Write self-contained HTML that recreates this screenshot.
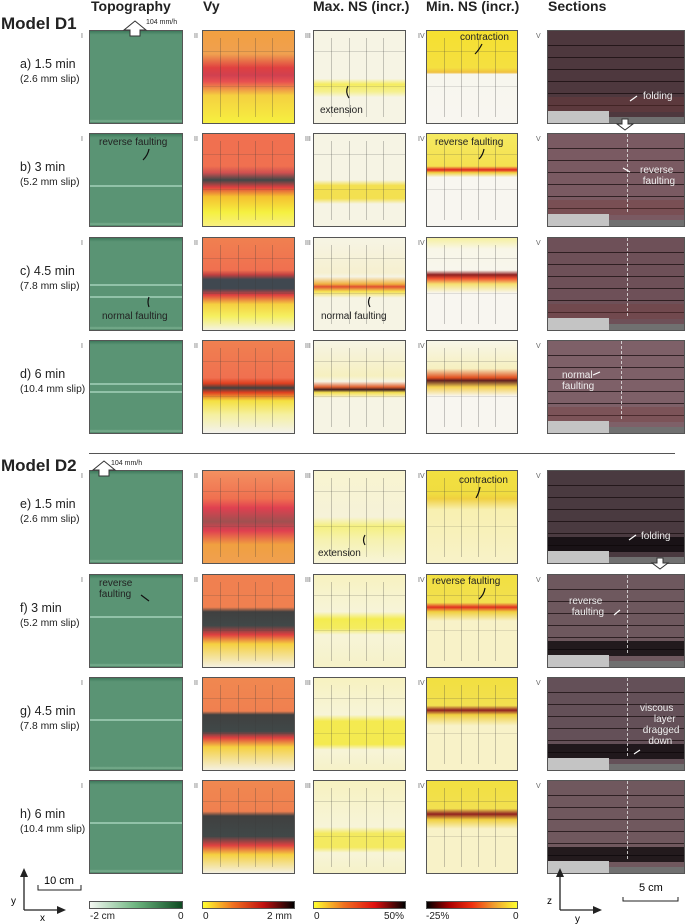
<!DOCTYPE html>
<html><head><meta charset="utf-8">
<style>
body{margin:0;width:685px;height:924px;background:#fff;position:relative;overflow:hidden;font-family:"Liberation Sans",Arial,sans-serif;color:#222}
.a{position:absolute}
.p{position:absolute;border:1px solid #555;box-sizing:border-box;overflow:hidden}
.h{position:absolute;top:-2px;font-weight:bold;font-size:14px}
.lab{position:absolute;left:20px;font-size:12.5px;line-height:14px}
.lab small{font-size:10.3px}
.rn{position:absolute;font-size:7px;color:#666}
.t{position:absolute;font-size:10px;white-space:nowrap}
.g{position:absolute;background:rgba(60,60,60,.45)}
.cb{position:absolute;top:901px;height:8px;border:1px solid #555;box-sizing:border-box}
.ct{position:absolute;top:911px;font-size:10px}
</style></head><body>
<div class="h" style="left:91px">Topography</div>
<div class="h" style="left:203px">Vy</div>
<div class="h" style="left:313px">Max. NS (incr.)</div>
<div class="h" style="left:426px">Min. NS (incr.)</div>
<div class="h" style="left:548px">Sections</div>
<div class="a" style="left:1px;top:14px;font-weight:bold;font-size:17px">Model D1</div>
<div class="a" style="left:1px;top:456px;font-weight:bold;font-size:17px">Model D2</div>
<div class="a" style="left:89px;top:453px;width:586px;height:1px;background:#555"></div>
<div class="t" style="left:146px;top:19px;font-size:7px">104 mm/h</div>
<div class="t" style="left:111px;top:460px;font-size:7px">104 mm/h</div>
<div id="root"></div>

<div class="cb" style="left:89px;width:94px;background:linear-gradient(90deg,#f4f8f2,#6db57f,#0e4a22)"></div>
<div class="cb" style="left:202px;width:93px;background:linear-gradient(90deg,#ffff30,#f07020,#c01010,#000)"></div>
<div class="cb" style="left:313px;width:93px;background:linear-gradient(90deg,#ffff30,#f07020,#e01010,#000)"></div>
<div class="cb" style="left:426px;width:92px;background:linear-gradient(90deg,#000,#a00,#f03010,#f0a030,#ffff30)"></div>
<div class="ct" style="left:90px">-2 cm</div><div class="ct" style="left:178px">0</div>
<div class="ct" style="left:203px">0</div><div class="ct" style="left:267px">2 mm</div>
<div class="ct" style="left:314px">0</div><div class="ct" style="left:384px">50%</div>
<div class="ct" style="left:426px">-25%</div><div class="ct" style="left:513px">0</div>
<svg class="a" style="left:0;top:860px" width="90" height="64">
<path d="M24 50 V12 M24 50 H62" stroke="#222" stroke-width="1.3" fill="none"/>
<path d="M20 17 L24 8 L28 17Z M57 46 L66 50 L57 54Z" fill="#222"/>
<path d="M38 25 V30 H81 V25" stroke="#222" fill="none"/>
<text x="11" y="44" font-size="10" font-family="Liberation Sans">y</text>
<text x="40" y="61" font-size="10" font-family="Liberation Sans">x</text>
<text x="44" y="24" font-size="11" font-family="Liberation Sans">10 cm</text>
</svg>
<svg class="a" style="left:545px;top:860px" width="140" height="64">
<path d="M15 50 V12 M15 50 H53" stroke="#222" stroke-width="1.3" fill="none"/>
<path d="M11 17 L15 8 L19 17Z M48 46 L57 50 L48 54Z" fill="#222"/>
<path d="M78 37 V41 H133 V37" stroke="#222" fill="none"/>
<text x="2" y="44" font-size="10" font-family="Liberation Sans">z</text>
<text x="30" y="62" font-size="10" font-family="Liberation Sans">y</text>
<text x="94" y="31" font-size="11" font-family="Liberation Sans">5 cm</text>
</svg>
<script>
var rowsY=[30,133,237,340,470,574,677,780];
var colsX=[89,202,313,426,547];
var colsW=[94,93,93,92,138];
var labels=[["a) 1.5 min","(2.6 mm slip)"],["b) 3 min","(5.2 mm slip)"],["c) 4.5 min","(7.8 mm slip)"],["d) 6 min","(10.4 mm slip)"],["e) 1.5 min","(2.6 mm slip)"],["f) 3 min","(5.2 mm slip)"],["g) 4.5 min","(7.8 mm slip)"],["h) 6 min","(10.4 mm slip)"]];
var vy=[
"#f2a040 0%,#f0a050 25%,#e04040 40%,#d04050 48%,#e85050 55%,#f5d040 70%,#f6f040 100%",
"#f07050 0%,#f07050 35%,#d05050 42%,#404848 50%,#e04040 58%,#f5c030 68%,#f5f040 85%,#f8f080 100%",
"#f08050 0%,#f07050 35%,#c04040 40%,#404850 45%,#404850 55%,#e04040 62%,#f5d040 72%,#f5f060 85%,#f4f2e0 100%",
"#f08050 0%,#f07050 40%,#e04020 46%,#404040 51%,#e04020 56%,#f5e040 65%,#f5f0a0 80%,#f4f2ec 100%",
"#f39060 0%,#f07050 30%,#e04050 40%,#a05050 55%,#e04050 65%,#f0a040 80%,#f0a050 100%",
"#f08050 0%,#f08050 35%,#404040 40%,#404848 55%,#e04040 65%,#f5d040 75%,#f4f0e0 100%",
"#f08850 0%,#f08050 36%,#404040 40%,#404848 58%,#e04040 65%,#f5d040 75%,#f4f0e0 100%",
"#f08850 0%,#f08050 33%,#404040 38%,#404848 60%,#e04040 70%,#f5d040 80%,#f4f0e0 100%"];
var maxns=[
"#f6f4e4 0%,#f6f4e4 52%,#f5ec60 58%,#f5f090 66%,#f6f4e4 72%",
"#f6f4e4 0%,#f6f4e4 50%,#f3e050 56%,#f3e050 70%,#f6f4e4 76%",
"#f6f4e4 0%,#f6f0d0 38%,#f6f4e4 42%,#f0b040 50%,#e05030 53%,#f5e050 58%,#f6f4e4 65%",
"#f6f4e4 0%,#f6f0c0 38%,#f6f4e4 44%,#e06030 50%,#402020 53%,#f5e050 56%,#f6f4e4 62%",
"#f8f4d0 0%,#f6f2d8 50%,#f5f080 60%,#f6f2b0 75%,#f7f4d8 100%",
"#f7f2c0 0%,#f7f4d8 40%,#f4ec50 48%,#f4ec60 58%,#f7f4d8 65%,#f6f2c8 100%",
"#f7f2c0 0%,#f7f4d8 40%,#f4ea50 47%,#f4ea50 72%,#f7f4d8 78%,#f6f2c8 100%",
"#f7f2c0 0%,#f7f4d8 50%,#f4ea60 57%,#f4ea60 72%,#f7f4d8 78%,#f6f2c8 100%"];
var minns=[
"#f5e030 0%,#f5e040 40%,#f0c040 45%,#f7f6ee 47%,#f8f6f0 100%",
"#f5ea60 0%,#f5e050 35%,#e02020 39%,#f0d040 42%,#f8f6f0 47%,#f8f6f0 100%",
"#f6f0a0 0%,#f8f6e8 12%,#f8f6ec 35%,#902020 40%,#f05030 44%,#f5e070 50%,#f8f6f0 60%,#f8f6f0 100%",
"#f8f6e8 0%,#f6f0c0 30%,#e05020 40%,#602020 43%,#f5d050 50%,#f8f6f0 60%,#f8f6f0 100%",
"#f2e040 0%,#f0dc40 25%,#f0d040 30%,#f8f0b0 42%,#f8f2c8 100%",
"#f2e040 0%,#f2e050 30%,#e03020 35%,#f0d040 40%,#f8f2c8 50%,#f8f2c8 100%",
"#f2e040 0%,#f2e050 30%,#902020 35%,#f0d040 40%,#f8f2c8 52%,#f8f2c8 100%",
"#f2e040 0%,#f2e050 30%,#902020 36%,#f0d040 42%,#f8f2c8 52%,#f8f2c8 100%"];
var secBg=["#4e383e","#7a5a62","#6e5058","#7e6068","#4a3a40","#6e585e","#645058","#70585e"];
var topoLines=[[],[55],[50,63],[46,54],[],[45],[45],[45]];
var root=document.getElementById('root');
function mk(parent,cls,style){var e=document.createElement('div');if(cls)e.className=cls;e.style.cssText=style;parent.appendChild(e);return e;}
var roman=["I","II","III","IV","V"];
for(var r=0;r<8;r++){
  var y=rowsY[r];
  var lb=mk(root,'lab','top:'+(y+27)+'px');
  lb.innerHTML=labels[r][0]+'<br><small>'+labels[r][1]+'</small>';
  
  
  for(var c=0;c<5;c++){
    var rn=mk(root,'rn','left:'+(colsX[c]-(c==4?11:8))+'px;top:'+(y+3)+'px');
    rn.textContent=roman[c];
    var bg;
    if(c==0)bg='linear-gradient(180deg,#3f7a5c 0%,#5a9474 4%,#5a9474 96%,#7ab090 98%,#4a7e62 100%)';
    else if(c==1)bg='linear-gradient(180deg,'+vy[r]+')';
    else if(c==2)bg='linear-gradient(180deg,'+maxns[r]+')';
    else if(c==3)bg='linear-gradient(180deg,'+minns[r]+')';
    else bg=secBg[r];
    var p=mk(root,'p','left:'+colsX[c]+'px;top:'+y+'px;width:'+colsW[c]+'px;height:94px;background:'+bg);
    
    
    if(c==0){topoLines[r].forEach(function(t){mk(p,'g','left:0;right:0;top:'+t+'%;height:2px;background:rgba(200,240,220,.5)');});}
    if(c>=1&&c<=3){
      for(var k=1;k<5;k++)mk(p,'g','left:'+(k*19)+'%;top:8%;bottom:6%;width:1px;opacity:.6');
      mk(p,'g','left:0;right:0;top:22%;height:1px;opacity:.4');
      mk(p,'g','left:0;right:0;top:60%;height:1px;opacity:.3');
    }
    if(c==4){
      for(var k=0;k<6;k++)mk(p,'g','left:0;right:0;top:'+(15+k*13)+'%;height:1px;background:rgba(20,10,12,.7)');
      mk(p,'g','left:0;right:0;top:72%;height:16%;background:'+(r<4?'rgba(120,60,60,.35)':'rgba(10,5,8,.75)'));
      mk(p,'g','left:0;width:45%;bottom:0;height:13%;background:#c4c4c4');
      mk(p,'g','left:45%;right:0;bottom:0;height:7%;background:#707070');
      if(r==1||r==2||r==3||r>=5)mk(p,'g','left:'+(r==3?54:58)+'%;top:0;bottom:15%;width:0;border-left:1px dashed rgba(230,230,230,.8);background:none');
    }
  }
}
function txt(x,y,s,col,name){var e=mk(root,'t','left:'+x+'px;top:'+y+'px;color:'+(col||'#222'));e.innerHTML=s;}
txt(320,105,'extension','#222','annotation-extension-a');
txt(460,32,'contraction','#222','annotation-contraction-a');
txt(643,91,'folding','#eee','annotation-folding-a');
txt(99,137,'reverse faulting','#222','annotation-reverse-faulting-b1');
txt(435,137,'reverse faulting','#222','annotation-reverse-faulting-b4');
txt(640,165,'reverse<br>&nbsp;faulting','#eee','annotation-reverse-faulting-b5');
txt(102,311,'normal faulting','#222','annotation-normal-faulting-c1');
txt(321,311,'normal faulting','#222','annotation-normal-faulting-c3');
txt(562,370,'normal<br>faulting','#eee','annotation-normal-faulting-d5');
txt(318,548,'extension','#222','annotation-extension-e');
txt(459,475,'contraction','#222','annotation-contraction-e');
txt(641,531,'folding','#eee','annotation-folding-e');
txt(99,578,'reverse<br>faulting','#222','annotation-reverse-faulting-f1');
txt(432,576,'reverse faulting','#222','annotation-reverse-faulting-f4');
txt(569,596,'reverse<br>&nbsp;faulting','#eee','annotation-reverse-faulting-f5');
txt(640,703,'viscous<br>&nbsp;&nbsp;&nbsp;&nbsp;&nbsp;layer<br>&nbsp;dragged<br>&nbsp;&nbsp;&nbsp;down','#eee','annotation-viscous-layer');
</script>
<svg class="a" style="left:0;top:0" width="685" height="924">
<path d="M130 36 v-6 h-6 l11 -9 l11 9 h-6 v6z" fill="#fff" stroke="#333"/>
<path d="M99 476 v-6 h-6 l11 -9 l11 9 h-6 v6z" fill="#fff" stroke="#333"/>
<path d="M622 119 h6 v5 h5 l-8 6 l-8 -6 h5z" fill="#fff" stroke="#333"/>
<path d="M657 558 h6 v5 h5 l-8 6 l-8 -6 h5z" fill="#fff" stroke="#333"/>
<g stroke="#111" stroke-width="1.2" fill="none"><path d="M349 98 q-4 -6 -1 -12"/><path d="M482 44 q-3 6 -7 10"/><path d="M149 149 q-1 6 -6 11"/><path d="M484 149 q-1 6 -5 10"/><path d="M149 307 q-2 -5 0 -10"/><path d="M370 307 q-3 -5 0 -10"/><path d="M365 545 q-3 -5 0 -10"/><path d="M480 487 q-1 6 -4 11"/><path d="M141 595 l8 6"/><path d="M485 588 q-1 7 -6 11"/></g>
<g stroke="#fff" stroke-width="1.2"><path d="M637 96 l-7 5"/><path d="M630 172 l-7 -4"/><path d="M593 375 l7 -3"/><path d="M636 535 l-7 5"/><path d="M620 610 l-6 5"/><path d="M640 750 l-6 4"/></g>
</svg>
</body></html>
